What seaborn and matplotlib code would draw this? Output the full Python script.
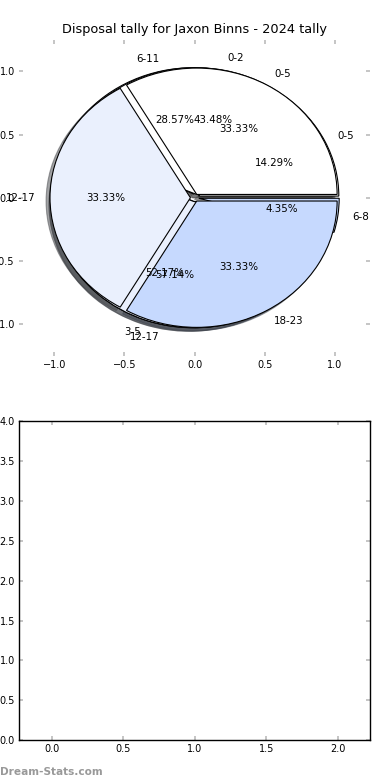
import matplotlib
matplotlib.use("Agg")
import matplotlib.pyplot as plt
import seaborn as sns

# ---- data ----
title = "Disposal tally for Jaxon Binns - 2024 tally"
labels_a = ["0-5", "6-11", "12-17"]
values_a = [1, 2, 4]
labels_b = ["0-2", "3-5", "6-8"]
values_b = [10, 12, 1]
labels_c = ["0-5", "12-17", "18-23"]
values_c = [1, 1, 1]
slice_colors = ["#ffffff", "#eaf0fd", "#c6d9fe"]
pie_ticks = [-1.0, -0.5, 0.0, 0.5, 1.0]
bottom_xticks = [0.0, 0.5, 1.0, 1.5, 2.0]
bottom_yticks = [0.0, 0.5, 1.0, 1.5, 2.0, 2.5, 3.0, 3.5, 4.0]

sns.set_style("white")
plt.rcParams["font.family"] = ["DejaVu Sans"]
plt.rcParams["text.color"] = "black"
plt.rcParams["axes.titlecolor"] = "black"
plt.rcParams["xtick.labelcolor"] = "black"
plt.rcParams["ytick.labelcolor"] = "black"

fig = plt.figure(figsize=(3.9, 7.8), dpi=100)
ax1 = fig.add_axes([0.049, 0.544, 0.900, 0.405])
ax2 = fig.add_axes([0.049, 0.051, 0.900, 0.409])

wp = dict(edgecolor="black", linewidth=0.8)
tp = dict(fontsize=7.4, color="black")
for labs, vals in [(labels_a, values_a), (labels_b, values_b), (labels_c, values_c)]:
    ax1.pie(vals, labels=labs, colors=slice_colors, autopct="%1.2f%%",
            explode=[0.03] * len(vals), shadow=True, wedgeprops=wp,
            textprops=tp, frame=False)

ax1.set_aspect("auto")
ax1.set_xlim(-1.25, 1.25)
ax1.set_ylim(-1.25, 1.25)
ax1.set_xticks(pie_ticks)
ax1.set_yticks(pie_ticks)
ax1.set_title(title, fontsize=9.3, pad=5, color="black")

ax2.set_xlim(-0.227, 2.226)
ax2.set_ylim(0, 4)
ax2.set_xticks(bottom_xticks)
ax2.set_yticks(bottom_yticks)
for s in ax2.spines.values():
    s.set_visible(True)
    s.set_color("black")
    s.set_linewidth(1.0)

for ax in (ax1, ax2):
    ax.tick_params(axis="both", which="both", direction="in", length=3,
                   width=1.2, color="#bbbbbb", labelsize=7.0, labelcolor="black",
                   top=True, right=True, bottom=True, left=True, pad=3)
    ax.grid(False)

fig.text(0.0, 0.004, "Dream-Stats.com", color="#999999", fontsize=7.6,
         fontweight="semibold", ha="left", va="bottom")

fig.savefig("out.png", dpi=100)
